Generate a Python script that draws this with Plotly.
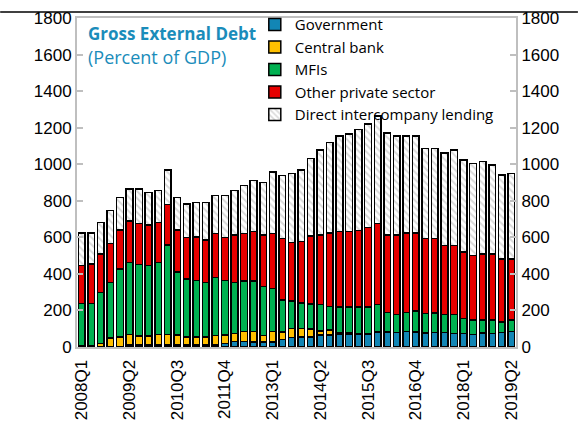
import plotly.graph_objects as go

quarters = [f"{y}Q{q}" for y in range(2008, 2020) for q in range(1, 5)][:46]

tick_labels = ["2008Q1", "2009Q2", "2010Q3", "2011Q4", "2013Q1",
               "2014Q2", "2015Q3", "2016Q4", "2018Q1", "2019Q2"]

government = [2, 2, 2, 2, 3, 10, 10, 10, 10, 12, 12, 12, 12, 12, 12, 20,
              29, 29, 27, 27, 27, 42, 53, 56, 55, 66, 66, 70, 72, 70, 70, 82,
              80, 78, 84, 82, 77, 80, 78, 75, 75, 68, 76, 75, 78, 86]
central_bank = [3, 3, 18, 47, 53, 59, 50, 50, 59, 57, 53, 44, 44, 44, 50, 45,
                46, 55, 57, 37, 57, 40, 49, 44, 43, 22, 27, 10, 5, 0, 0, 3,
                2, 0, 0, 0, 0, 0, 0, 0, 0, 0, 0, 0, 0, 0]
mfis = [234, 234, 277, 305, 371, 394, 392, 385, 394, 489, 344, 316, 307, 296, 319, 298,
        277, 277, 277, 266, 237, 175, 150, 142, 137, 144, 129, 140, 143, 150, 150, 147,
        108, 99, 106, 114, 107, 107, 99, 104, 82, 80, 72, 73, 60, 62]
other_private = [206, 215, 212, 213, 213, 226, 225, 222, 217, 222, 231, 228, 240, 233, 241, 237,
                 261, 261, 270, 283, 301, 338, 321, 334, 372, 382, 403, 411, 411, 418, 433, 445,
                 423, 436, 433, 427, 411, 408, 379, 375, 363, 354, 361, 361, 343, 333]
intercompany = [180, 171, 171, 179, 179, 175, 187, 179, 175, 188, 179, 182, 188, 206, 206, 228,
                242, 262, 279, 288, 335, 344, 375, 392, 425, 463, 493, 523, 534, 552, 567, 588,
                559, 541, 531, 531, 492, 492, 506, 523, 503, 503, 505, 487, 460, 467]

series = [
    ("Government", government, "#1286b5", None),
    ("Central bank", central_bank, "#ffc000", None),
    ("MFIs", mfis, "#00b050", None),
    ("Other private sector", other_private, "#e60000", None),
    ("Direct intercompany lending", intercompany, "white", "\\"),
]

fig = go.Figure()
for name, vals, col, pat in series:
    marker = dict(color=col, line=dict(color="black", width=1.5))
    if pat:
        marker["pattern"] = dict(shape=pat, fgcolor="#b3b3b3", bgcolor="white", size=5, solidity=0.4)
    fig.add_trace(go.Bar(x=quarters, y=vals, name=name, marker=marker))

# dummy trace to show right axis
fig.add_trace(go.Scatter(x=[quarters[0]], y=[None], yaxis="y2", showlegend=False,
                         hoverinfo="skip", mode="lines"))

grey = "#bfbfbf"
fig.update_layout(
    width=578, height=425,
    margin=dict(l=77, r=62, t=18, b=78, autoexpand=False),
    barmode="stack", bargap=0.3,
    plot_bgcolor="white", paper_bgcolor="white",
    font=dict(family="Liberation Sans, Arial", size=17, color="black"),
    showlegend=True,
    legend=dict(x=0.405, y=1.03, xanchor="left", yanchor="top", traceorder="normal",
                bgcolor="rgba(0,0,0,0)",
                font=dict(family="Open Sans", size=15, color="black"),
                tracegroupgap=0, itemwidth=30),
    xaxis=dict(type="category", tickmode="array", tickvals=tick_labels, ticktext=tick_labels,
               range=[-0.5, len(quarters) - 0.5],
               tickangle=-90, showline=True, linecolor=grey, linewidth=2, mirror=True,
               ticks="", showgrid=False, tickfont=dict(size=17), ticklabelstandoff=4,
               automargin=False),
    yaxis=dict(range=[0, 1800], dtick=200, showline=True, linecolor=grey, linewidth=2,
               ticks="inside", ticklen=6, tickcolor=grey, tickwidth=2, showgrid=False,
               zeroline=False, tickfont=dict(size=17), automargin=False),
    yaxis2=dict(range=[0, 1800], dtick=200, overlaying="y", side="right", anchor="x",
                showline=True, linecolor=grey, linewidth=2,
                ticks="inside", ticklen=6, tickcolor=grey, tickwidth=2, showgrid=False,
                zeroline=False, tickfont=dict(size=17), automargin=False),
    annotations=[
        dict(text="<b>Gross External Debt</b>", x=0.02, y=0.952, xref="paper", yref="paper",
             xanchor="left", yanchor="middle", showarrow=False,
             font=dict(family="Open Sans", size=17, color="#1a8cba")),
        dict(text="(Percent of GDP)", x=0.02, y=0.882, xref="paper", yref="paper",
             xanchor="left", yanchor="middle", showarrow=False,
             font=dict(family="Open Sans", size=18, color="#1a8cba")),
    ],
    shapes=[dict(type="line", xref="paper", yref="paper", x0=-0.175, x1=1.141,
                 y0=1.0185, y1=1.0185, line=dict(color="black", width=1.5))],
)

fig.write_html("out.html", config={"displayModeBar": False},
               post_script="document.body.style.margin='0';document.body.style.overflow='hidden';")
